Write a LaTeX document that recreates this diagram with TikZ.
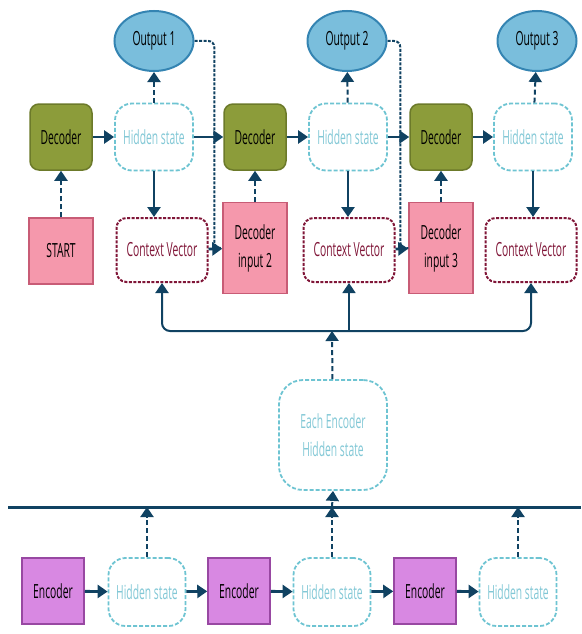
\documentclass[tikz,border=0pt]{standalone}
\usepackage{fontspec}
\setmainfont{Open Sans}[FakeStretch=0.53]
\usepackage{tikz}
\usetikzlibrary{shapes.geometric, arrows.meta, positioning, calc}
\definecolor{flownavy}{RGB}{16, 66, 98}
\definecolor{decgreen}{RGB}{140, 156, 58}
\definecolor{decline}{RGB}{108, 122, 42}
\definecolor{hidteal}{RGB}{110, 196, 210}
\definecolor{hidtext}{RGB}{130, 200, 214}
\definecolor{outblue}{RGB}{122, 190, 220}
\definecolor{outline}{RGB}{52, 132, 178}
\definecolor{inpink}{RGB}{245, 152, 172}
\definecolor{inline}{RGB}{200, 92, 118}
\definecolor{ctxred}{RGB}{128, 22, 56}
\definecolor{encviolet}{RGB}{216, 136, 226}
\definecolor{encline}{RGB}{152, 72, 162}

\tikzset{
    box/.style={minimum width=62pt, minimum height=66pt, inner sep=2pt, align=center,
        font=\fontsize{19.5}{28}\selectfont, line width=1.5pt},
    decoder/.style={box, rounded corners=9pt, fill=decgreen, draw=decline},
    encoder/.style={box, fill=encviolet, draw=encline},
    inbox/.style={box, minimum width=64pt, fill=inpink, draw=inline},
    hidden/.style={box, minimum width=78pt, minimum height=67pt, rounded corners=17pt, fill=white,
        draw=hidteal, text=hidtext, line width=1.8pt, dash pattern=on 4pt off 2pt},
    context/.style={box, minimum width=91pt, minimum height=64pt, rounded corners=10pt, fill=white,
        draw=ctxred, text=ctxred, line width=2pt, dash pattern=on 3pt off 1.5pt},
    output/.style={ellipse, minimum width=79pt, minimum height=60pt, inner sep=0pt,
        fill=outblue, draw=outline, line width=2pt, font=\fontsize{19.5}{28}\selectfont},
    flow/.style={draw=flownavy, line width=2.8pt, -{Triangle[length=10pt, width=13pt]}},
    dashflow/.style={draw=flownavy, line width=2pt, dash pattern=on 5pt off 3pt,
        -{Triangle[length=10pt, width=13pt]}},
    feedback/.style={draw=flownavy, line width=2pt, dash pattern=on 3pt off 1.5pt, rounded corners=6pt}
}

\begin{document}
\begin{tikzpicture}[x=1pt, y=-1pt]
    \useasboundingbox (0,0) rectangle (581,634);

    % Decoder side
    \foreach \i/\dx/\hx/\cx/\ox in {1/61/154/162/154, 2/255/348/349/347, 3/441/533/531/537} {
        \node[output] (out\i) at (\ox,41) {Output \i};
        \node[decoder] (dec\i) at (\dx,137) {Decoder};
        \node[hidden] (hid\i) at (\hx,137) {Hidden state};
        \node[context] (ctx\i) at (\cx,250) {Context Vector};
    }
    \node[inbox] (start) at (61,251) {START};
    \node[inbox, minimum height=91pt] (inp2) at (255,248) {Decoder\\input 2};
    \node[inbox, minimum height=91pt] (inp3) at (441,248) {Decoder\\input 3};

    \foreach \i in {1,2,3} {
        \draw[flow] (dec\i) -- (hid\i);
        \draw[dashflow] (hid\i) -- (out\i);
        \draw[flow] (hid\i.south) -- (hid\i.south |- ctx\i.north);
    }
    \draw[flow] (hid1) -- (dec2);
    \draw[flow] (hid2) -- (dec3);
    \draw[dashflow] (start) -- (dec1);
    \draw[dashflow] (inp2) -- (dec2);
    \draw[dashflow] (inp3) -- (dec3);
    \draw[feedback] (out1.east) -| ([xshift=-8pt]inp2.west) -- (inp2.west);
    \draw[feedback] (out2.east) -| ([xshift=-8pt]inp3.west) -- (inp3.west);
    \draw[flow] (ctx1) -- (inp2);
    \draw[flow] (ctx2) -- (inp3);

    % Attention over encoder states
    \node[hidden, minimum width=108pt, minimum height=110pt, rounded corners=24pt] (each) at (333,435)
        {Each Encoder\\Hidden state};
    \coordinate (bus) at (332,331);
    \draw[flow, line width=2pt, rounded corners=8pt] (bus) -| (ctx1.south);
    \draw[flow, line width=2pt, rounded corners=8pt] (bus) -| (ctx3.south);
    \draw[flow, line width=1.6pt] (ctx2.south |- bus) -- (ctx2.south);
    \draw[dashflow] (each) -- (bus);

    % Encoder side
    \foreach \i/\ex/\hx in {1/53/147, 2/239/332, 3/425/518} {
        \node[encoder] (enc\i) at (\ex,591) {Encoder};
        \node[hidden, minimum width=77pt, minimum height=68pt] (ehid\i) at (\hx,592) {Hidden state};
        \draw[flow] (enc\i) -- (ehid\i);
    }
    \draw[flow] (ehid1) -- (enc2);
    \draw[flow] (ehid2) -- (enc3);

    \coordinate (railL) at (8,507);
    \coordinate (railR) at (581,507);
    \draw[flownavy, line width=3pt] (railL) -- (railR);
    \foreach \i in {1,2,3} {
        \draw[dashflow] (ehid\i.north) -- (ehid\i.north |- railL);
    }
    \draw[dashflow] (ehid2.north |- railL) -- (each.south);
\end{tikzpicture}
\end{document}
